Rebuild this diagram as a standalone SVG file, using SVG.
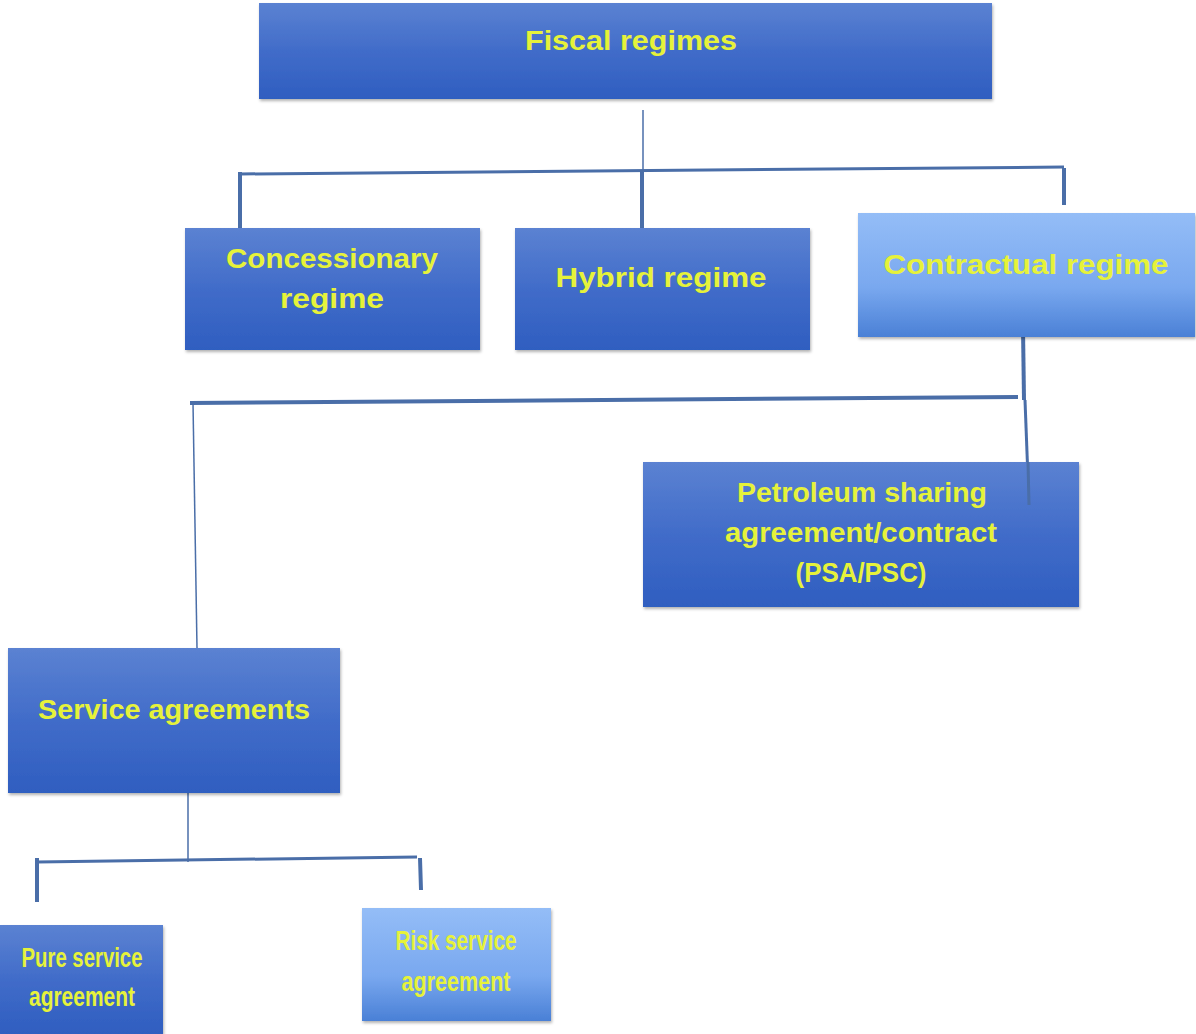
<svg xmlns="http://www.w3.org/2000/svg" width="1196" height="1034" viewBox="0 0 1196 1034">
<defs>
<linearGradient id="dark" x1="0" y1="0" x2="0" y2="1">
<stop offset="0" stop-color="#5b82d2"/>
<stop offset="0.5" stop-color="#416cc9"/>
<stop offset="1" stop-color="#2f5ec0"/>
</linearGradient>
<linearGradient id="light" x1="0" y1="0" x2="0" y2="1">
<stop offset="0" stop-color="#94bdf7"/>
<stop offset="0.6" stop-color="#79a8ef"/>
<stop offset="1" stop-color="#4a80d6"/>
</linearGradient>
<filter id="sh" x="-5%" y="-5%" width="110%" height="115%">
<feDropShadow dx="1" dy="2" stdDeviation="1.5" flood-color="#000" flood-opacity="0.3"/>
</filter>
</defs>
<style>
.d{fill:url(#dark);filter:url(#sh)}
.l{fill:url(#light);filter:url(#sh)}
.t{font-family:"Liberation Sans","DejaVu Sans",sans-serif;font-weight:bold;font-size:27px;fill:#e6f23a;text-anchor:middle}
.c{stroke:#4a6ea8;fill:none;stroke-linecap:butt}
.thin{stroke-width:1.5}
.thick{stroke-width:4}
.mid{stroke-width:3}
</style>
<rect width="1196" height="1034" fill="#fff"/>
<g id="connectors">
<line class="c thin" x1="643" y1="110" x2="643" y2="170"/>
<line class="c thick" x1="642" y1="170" x2="642" y2="228"/>
<path class="c mid" d="M240 174 L1064 167"/>
<line class="c thick" x1="240" y1="172" x2="240" y2="228"/>
<line class="c thick" x1="1064" y1="168" x2="1064" y2="205"/>
<line class="c thick" x1="1023" y1="328" x2="1024" y2="400"/>
<line class="c mid" x1="1025" y1="400" x2="1029" y2="505"/>
<path class="c thick" d="M190 403 L1018 397"/>
<line class="c thin" x1="193" y1="403" x2="197" y2="648"/>
<line class="c thin" x1="188" y1="793" x2="188" y2="862"/>
<path class="c mid" d="M37 862 L417 857"/>
<line class="c thick" x1="37" y1="858" x2="37" y2="902"/>
<line class="c thick" x1="420" y1="858" x2="421" y2="890"/>
</g>
<g id="fiscal">
<rect class="d" x="259" y="3" width="733" height="96"/>
<text class="t" x="631" y="50" textLength="212" lengthAdjust="spacingAndGlyphs">Fiscal regimes</text>
</g>
<g id="concessionary">
<rect class="d" x="185" y="228" width="295" height="122"/>
<text class="t" x="332" y="268" textLength="212" lengthAdjust="spacingAndGlyphs">Concessionary</text>
<text class="t" x="332" y="308" textLength="104" lengthAdjust="spacingAndGlyphs">regime</text>
</g>
<g id="hybrid">
<rect class="d" x="515" y="228" width="295" height="122"/>
<text class="t" x="661" y="287" textLength="211" lengthAdjust="spacingAndGlyphs">Hybrid regime</text>
</g>
<g id="contractual">
<rect class="l" x="858" y="213" width="337" height="124"/>
<text class="t" x="1026" y="274" textLength="285" lengthAdjust="spacingAndGlyphs">Contractual regime</text>
</g>
<g id="psa">
<rect class="d" x="643" y="462" width="436" height="145"/>
<line class="c mid" x1="1028" y1="462" x2="1029" y2="505"/>
<text class="t" x="862" y="502" textLength="250" lengthAdjust="spacingAndGlyphs">Petroleum sharing</text>
<text class="t" x="861" y="542" textLength="272" lengthAdjust="spacingAndGlyphs">agreement/contract</text>
<text class="t" x="861" y="582" textLength="131" lengthAdjust="spacingAndGlyphs">(PSA/PSC)</text>
</g>
<g id="service">
<rect class="d" x="8" y="648" width="332" height="145"/>
<text class="t" x="174" y="719" textLength="272" lengthAdjust="spacingAndGlyphs">Service agreements</text>
</g>
<g id="pure">
<rect class="d" x="0" y="925" width="163" height="109"/>
<text class="t" x="82" y="967" textLength="121" lengthAdjust="spacingAndGlyphs">Pure service</text>
<text class="t" x="82" y="1006" textLength="106" lengthAdjust="spacingAndGlyphs">agreement</text>
</g>
<g id="risk">
<rect class="l" x="362" y="908" width="189" height="113"/>
<text class="t" x="456" y="950" textLength="121" lengthAdjust="spacingAndGlyphs">Risk service</text>
<text class="t" x="456" y="991" textLength="109" lengthAdjust="spacingAndGlyphs">agreement</text>
</g>
</svg>
